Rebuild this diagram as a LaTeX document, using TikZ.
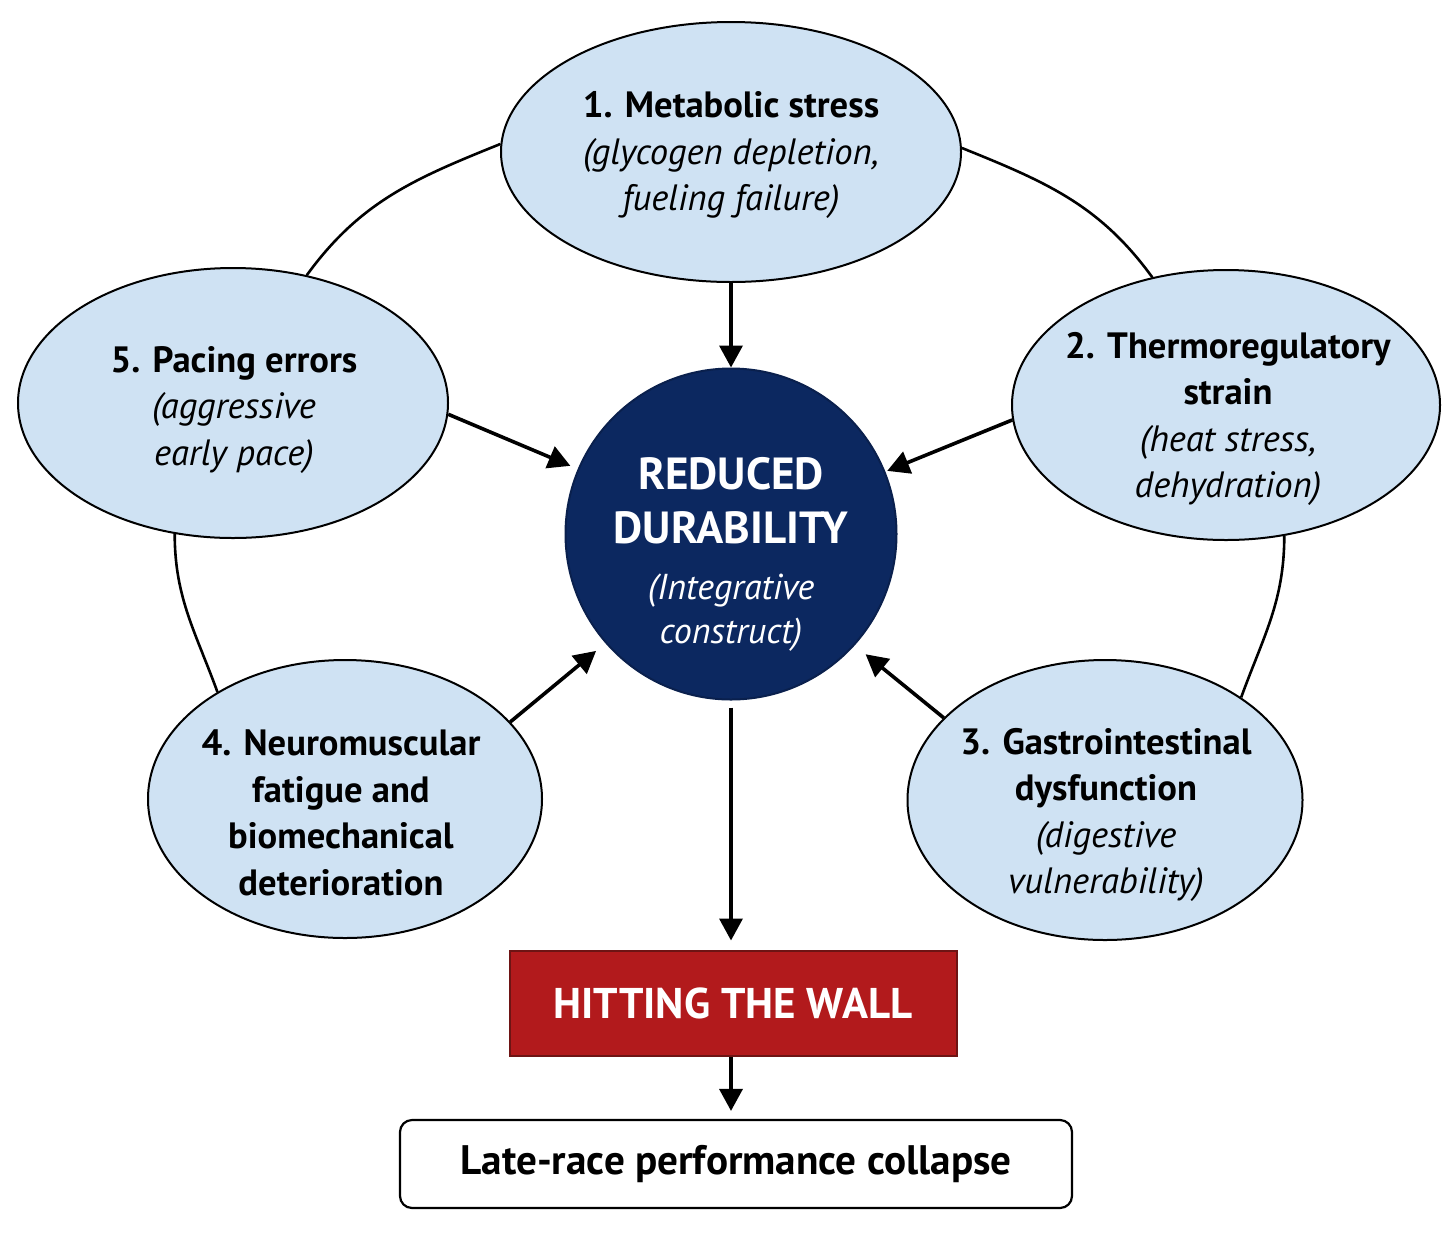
\documentclass[tikz,border=0pt]{standalone}
\usepackage{fontspec}
\setmainfont{PT Sans}
\usetikzlibrary{shapes.geometric,arrows.meta}
\definecolor{eblue}{RGB}{207,226,243}
\definecolor{navy}{RGB}{12,40,96}
\definecolor{wallred}{RGB}{178,26,28}
\definecolor{walledge}{RGB}{110,20,20}
\tikzset{
  factor/.style={ellipse,draw=black,line width=1pt,fill=eblue,inner sep=0pt},
  ftext/.style={align=center,font=\fontsize{18.3}{23.3}\selectfont,inner sep=0pt},
  arr/.style={line width=1.8pt,-{Triangle[length=11pt,width=11.5pt]}},
  ring/.style={line width=1.3pt},
}
\begin{document}
\begin{tikzpicture}[x=0.5pt,y=0.5pt]
\useasboundingbox[fill=white] (0,0) rectangle (1456,-1233);

\node[factor,minimum width=230pt,minimum height=130pt] (e1) at (731,-152) {};
\node[factor,minimum width=214pt,minimum height=135pt] (e2) at (1226,-405) {};
\node[factor,minimum width=197.5pt,minimum height=140pt] (e3) at (1105,-800) {};
\node[factor,minimum width=197pt,minimum height=139pt] (e4) at (345,-799) {};
\node[factor,minimum width=215pt,minimum height=135pt] (e5) at (233,-403) {};

% ring arcs
\draw[ring] (e1.178.7) to[out=202,in=54] (e5.60);
\draw[ring] (e1.1.3) to[out=-22,in=126] (e2.120);
\draw[ring] (e5.246.6) to[out=270,in=110] (e4.140);
\draw[ring] (e2.294.4) to[out=270,in=70] (e3.37);

\node[circle,fill=navy,draw=navy!80!black,line width=1pt,minimum size=165.5pt,inner sep=0pt] (c) at (731,-534) {};

% texts
\node[ftext] (t1) at (731,-155) {\textbf{1. Metabolic stress}\\\textit{(glycogen depletion,}\\\textit{fueling failure)}};
\node[ftext] (t2) at (1228,-419) {\textbf{2. Thermoregulatory}\\\textbf{strain}\\\textit{(heat stress,}\\\textit{dehydration)}};
\node[ftext] (t3) at (1106,-815) {\textbf{3. Gastrointestinal}\\\textbf{dysfunction}\\\textit{(digestive}\\\textit{vulnerability)}};
\node[ftext] (t4) at (341,-813) {\textbf{4. Neuromuscular}\\\textbf{fatigue and}\\\textbf{biomechanical}\\\textbf{deterioration}};
\node[ftext] (t5) at (234,-410) {\textbf{5. Pacing errors}\\\textit{(aggressive}\\\textit{early pace)}};

\node[align=center,text=white,inner sep=0pt,font=\fontsize{22.5}{27}\selectfont] (ct) at (731,-554)
  {\textbf{REDUCED}\\\textbf{DURABILITY}\\[1pt]{\fontsize{18}{22}\selectfont\itshape (Integrative}\\[-5pt]{\fontsize{18}{22}\selectfont\itshape construct)}};

\node[rectangle,fill=wallred,draw=walledge,line width=1pt,minimum width=223.5pt,minimum height=52.5pt,
  text=white,font=\fontsize{21.5}{25}\selectfont\bfseries] (w) at (733,-1003) {HITTING THE WALL};

\node[rectangle,rounded corners=6pt,fill=white,draw=black,line width=1.1pt,minimum width=336pt,minimum height=44pt,
  font=\fontsize{20.6}{24}\selectfont\bfseries] (l) at (736,-1164) {Late-race performance collapse};

% arrows
\draw[arr] (e1.south) -- (c.north);
\draw[arr,shorten >=4pt] (e5.-3) -- (c.157);
\draw[arr,shorten >=1pt] (e2.184) -- (c.22);
\draw[arr,shorten >=6pt] (e4.25) -- (c.221);
\draw[arr,shorten >=7pt] (e3.153.6) -- (c.318);
\draw[arr,shorten <=3.5pt,shorten >=4.5pt] (c.south) -- (c.south |- w.north);
\draw[arr,shorten >=4pt] (c.south |- w.south) -- (c.south |- l.north);
\end{tikzpicture}
\end{document}
